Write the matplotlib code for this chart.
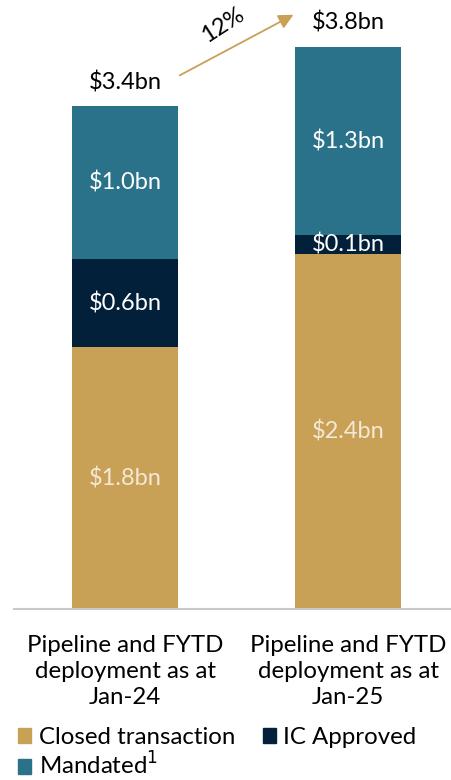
import matplotlib.pyplot as plt
import numpy as np
from matplotlib.patches import Patch

plt.rcParams['font.family'] = ['Lato', 'DejaVu Sans']

# Data (US$ bn)
categories = ['Pipeline and FYTD\ndeployment as at\nJan-24',
              'Pipeline and FYTD\ndeployment as at\nJan-25']
closed = [1.77, 2.40]
ic_approved = [0.60, 0.13]
mandated = [1.03, 1.27]
closed_lbl = ['$1.8bn', '$2.4bn']
ic_lbl = ['$0.6bn', '$0.1bn']
mandated_lbl = ['$1.0bn', '$1.3bn']
total_lbl = ['$3.4bn', '$3.8bn']
growth_lbl = '12%'

GOLD = '#C8A056'
NAVY = '#03203A'
TEAL = '#297289'

fig = plt.figure(figsize=(4.52, 7.8), dpi=100)
ax = fig.add_axes([14 / 452, 171 / 780, 438 / 452, 609 / 780])

x = np.arange(len(categories))
w = 0.475
closed = np.array(closed)
ic_approved = np.array(ic_approved)
mandated = np.array(mandated)
totals = closed + ic_approved + mandated

ax.bar(x, closed, w, color=GOLD)
ax.bar(x, ic_approved, w, bottom=closed, color=NAVY)
ax.bar(x, mandated, w, bottom=closed + ic_approved, color=TEAL)

fs = 17
for i in range(len(x)):
    ax.text(x[i], closed[i] / 2, closed_lbl[i], ha='center', va='center',
            color='#F3E9D6', fontsize=fs)
    ax.text(x[i], closed[i] + ic_approved[i] / 2, ic_lbl[i], ha='center',
            va='center', color='white', fontsize=fs)
    ax.text(x[i], closed[i] + ic_approved[i] + mandated[i] / 2, mandated_lbl[i],
            ha='center', va='center', color='white', fontsize=fs)
    ax.text(x[i], totals[i] + 0.165, total_lbl[i], ha='center', va='center',
            color='black', fontsize=fs)

# growth arrow
ax.annotate('', xy=(0.755, totals[1] + 0.22), xytext=(0.245, totals[0] + 0.21),
            arrowprops=dict(arrowstyle='-|>', color=GOLD, lw=1.3,
                            mutation_scale=22, shrinkA=0, shrinkB=0))
ax.text(0.44, totals[0] + 0.55, growth_lbl, ha='center', va='center',
        rotation=33, fontsize=fs)

ax.set_xlim(-0.498, 1.466)
ax.set_ylim(0, 4.12)
ax.set_xticks(x)
ax.set_xticklabels(categories, fontsize=17.3, linespacing=1.27)
ax.tick_params(axis='x', length=0, pad=19)
ax.set_yticks([])
for s in ['top', 'right', 'left']:
    ax.spines[s].set_visible(False)
ax.spines['bottom'].set_color('#C8C8C8')
ax.spines['bottom'].set_linewidth(1.5)

handles = [Patch(color=GOLD, label='Closed transaction'),
           Patch(color=TEAL, label='Mandated$^1$'),
           Patch(color=NAVY, label='IC Approved')]
fig.legend(handles=handles, loc='upper left', bbox_to_anchor=(0.04, 0.068),
           ncol=2, frameon=False, fontsize=17.3, handlelength=0.55,
           handleheight=0.55, handletextpad=0.3, columnspacing=1.15,
           labelspacing=0.15, borderaxespad=0, borderpad=0)

fig.savefig('out.png', dpi=100)
